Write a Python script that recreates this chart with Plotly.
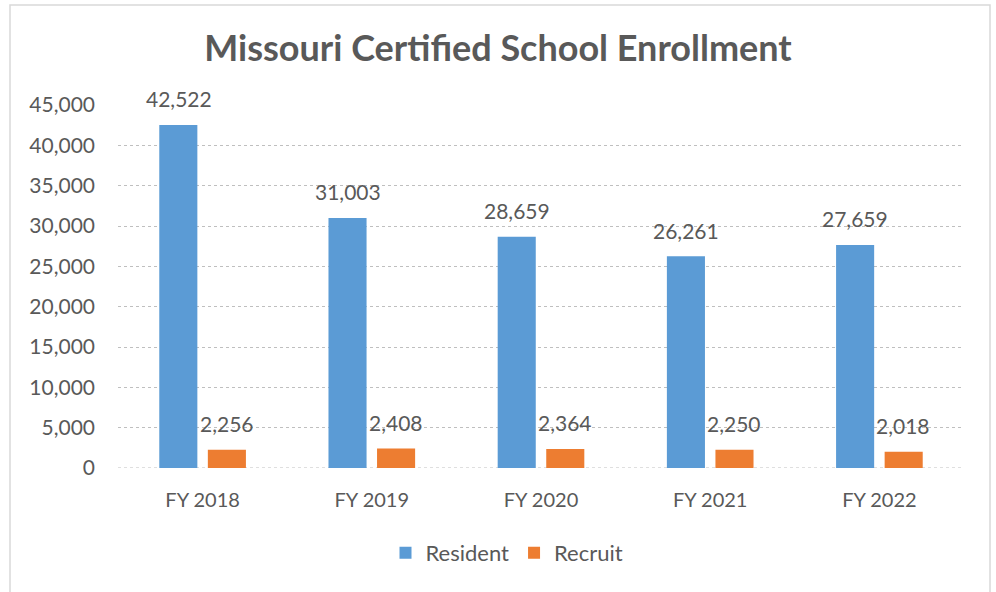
import plotly.graph_objects as go

categories = ["FY 2018", "FY 2019", "FY 2020", "FY 2021", "FY 2022"]
resident = [42522, 31003, 28659, 26261, 27659]
recruit = [2256, 2408, 2364, 2250, 2018]
tick_vals = [0, 5000, 10000, 15000, 20000, 25000, 30000, 35000, 40000, 45000]
tick_text = ["0", "5,000", "10,000", "15,000", "20,000", "25,000", "30,000", "35,000", "40,000", "45,000"]

BLUE = "#5B9BD5"
ORANGE = "#ED7D31"
TXT = "#595959"
FONT = "Lato"

fig = go.Figure()
fig.add_trace(go.Bar(name="Resident", x=categories, y=resident, marker_color=BLUE,
                     marker_line_width=0))
fig.add_trace(go.Bar(name="Recruit", x=categories, y=recruit, marker_color=ORANGE,
                     marker_line_width=0))

annotations = []
for c, v in zip(categories, resident):
    annotations.append(dict(x=c, y=v, xref="x", yref="y", text=f"{v:,}", showarrow=False,
                            xshift=-24, yshift=26, font=dict(family=FONT, size=21, color=TXT)))
for c, v in zip(categories, recruit):
    annotations.append(dict(x=c, y=v, xref="x", yref="y", text=f"{v:,}", showarrow=False,
                            xshift=24, yshift=26, font=dict(family=FONT, size=21, color=TXT)))

fig.update_layout(
    width=996, height=592, autosize=False,
    paper_bgcolor="white", plot_bgcolor="white",
    margin=dict(l=118, r=32, t=105, b=124, autoexpand=False),
    barmode="group", bargap=0.426, bargroupgap=0.216,
    title=dict(text="<b>Missouri Certified School Enrollment</b>", x=0.5, xref="container",
               xanchor="center", y=1 - 48 / 592, yref="container", yanchor="middle",
               font=dict(family=FONT, size=36, color=TXT)),
    font=dict(family=FONT, color=TXT),
    legend=dict(orientation="h", x=(507 - 118) / 846, xanchor="center",
                y=(468 - 553) / 363, yanchor="middle",
                font=dict(family=FONT, size=22, color=TXT)),
    annotations=annotations,
    shapes=[dict(type="rect", xref="paper", yref="paper",
                 x0=(10 - 118) / 846, x1=(990 - 118) / 846,
                 y0=(468 - 600) / 363, y1=(468 - 5) / 363,
                 line=dict(color="#D9D9D9", width=1.5), layer="below"),
            dict(type="line", xref="paper", yref="y", x0=0, x1=1, y0=0, y1=0,
                 line=dict(color="#BFBFBF", width=1, dash="dot"), layer="below")],
)
fig.update_yaxes(range=[0, 45000], tickvals=tick_vals, ticktext=tick_text,
                 showgrid=True, gridcolor="#BFBFBF", griddash="dot", gridwidth=1,
                 zeroline=False, showline=False, ticks="", ticklabelstandoff=22,
                 automargin=False, tickfont=dict(family=FONT, size=21, color=TXT))
fig.update_xaxes(showline=False, ticks="",
                 ticklabelstandoff=18, automargin=False, tickangle=0,
                 tickfont=dict(family=FONT, size=20, color=TXT))

fig.write_html("out.html", config={"displayModeBar": False},
               post_script="document.body.style.margin='0';document.body.style.padding='0';")
